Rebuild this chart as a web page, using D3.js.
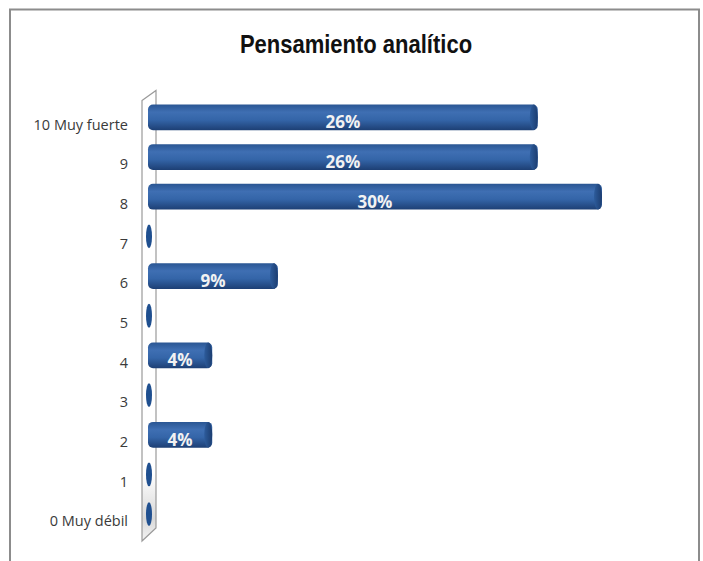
<!DOCTYPE html>
<html>
<head>
<meta charset="utf-8">
<script src="https://cdn.jsdelivr.net/npm/d3@7"></script>
<style>
  body { margin: 0; background: #fff; }
  svg { display: block; }
</style>
</head>
<body>
<svg id="chart"></svg>
<script>
// data (percent of answers)
var categories = ["10 Muy fuerte", "9", "8", "7", "6", "5", "4", "3", "2", "1", "0 Muy débil"]
var values = [26.1, 26.1, 30.4, 0, 8.7, 0, 4.3, 0, 4.3, 0, 0]
var valueLabels = ["26%", "26%", "30%", "", "9%", "", "4%", "", "4%", "", ""]
var title = "Pensamiento analítico"

var width = 703
var height = 561
var svg = d3.select("#chart").attr("width", width).attr("height", height)

var rows = categories.map(function(c, i) { return { cat: c, val: values[i], lab: valueLabels[i] } })

// scales
var x = d3.scaleLinear().domain([0, 30.4]).range([148, 602])
var y = d3.scaleBand().domain(categories).range([97.5, 534]).paddingInner(0.35).paddingOuter(0.175)

// gradients for the cylinder look
var defs = svg.append("defs")
var g1 = defs.append("linearGradient").attr("id", "barGrad").attr("x1", 0).attr("y1", 0).attr("x2", 0).attr("y2", 1)
g1.append("stop").attr("offset", "0%").attr("stop-color", "#2a5693")
g1.append("stop").attr("offset", "30%").attr("stop-color", "#3f6fb3")
g1.append("stop").attr("offset", "60%").attr("stop-color", "#3465a8")
g1.append("stop").attr("offset", "100%").attr("stop-color", "#1d3f74")
var g2 = defs.append("linearGradient").attr("id", "capGrad").attr("x1", 0).attr("y1", 0).attr("x2", 1).attr("y2", 0)
g2.append("stop").attr("offset", "0%").attr("stop-color", "#2d5c9c")
g2.append("stop").attr("offset", "100%").attr("stop-color", "#1c3d70")
var g3 = defs.append("linearGradient").attr("id", "wallGrad").attr("x1", 0).attr("y1", 0).attr("x2", 0).attr("y2", 1)
g3.append("stop").attr("offset", "0%").attr("stop-color", "#ffffff")
g3.append("stop").attr("offset", "85%").attr("stop-color", "#ffffff")
g3.append("stop").attr("offset", "95%").attr("stop-color", "#d8d8d8")
g3.append("stop").attr("offset", "100%").attr("stop-color", "#f4f4f4")

// outer frame
svg.append("rect")
  .attr("x", 10).attr("y", 9.5).attr("width", 689).attr("height", 560)
  .attr("fill", "#fff").attr("stroke", "#8c8c8c").attr("stroke-width", 2)

// title (slightly condensed like the original)
svg.append("text")
  .attr("transform", "translate(356,53) scale(0.88,1)")
  .attr("text-anchor", "middle")
  .style("font-family", "Liberation Sans, Arial, sans-serif")
  .style("font-weight", "bold")
  .style("font-size", "25px")
  .attr("fill", "#111")
  .text(title)

// the 3D side wall
var wallTop = y.range()[0] - 7
var wallBot = y.range()[1] + 7
svg.append("path")
  .attr("d", "M142," + (wallTop + 10) + " L156," + wallTop + " L156," + (wallBot - 13) + " L142," + wallBot + " Z")
  .attr("fill", "url(#wallGrad)")
  .attr("stroke", "#9a9a9a")
  .attr("stroke-width", 1.2)

// category axis
var axis = svg.append("g")
  .attr("transform", "translate(128,7)")
  .call(d3.axisLeft(y).tickSize(0).tickPadding(0))
axis.select(".domain").remove()
axis.selectAll("text")
  .attr("dy", "0.36em")
  .style("font-family", "Open Sans, Noto Sans, sans-serif")
  .style("font-size", "14.5px")
  .attr("fill", "#3a3a3a")

// bars
var bars = svg.append("g").selectAll("g")
  .data(rows)
  .enter()
  .append("g")

var bw = y.bandwidth()
bars.filter(function(d) { return d.val > 0 })
  .append("rect")
  .attr("x", x(0))
  .attr("y", function(d) { return y(d.cat) })
  .attr("width", function(d) { return x(d.val) - x(0) })
  .attr("height", bw)
  .attr("rx", 5)
  .attr("fill", "url(#barGrad)")

bars.filter(function(d) { return d.val > 0 })
  .append("ellipse")
  .attr("cx", function(d) { return x(d.val) - 4 })
  .attr("cy", function(d) { return y(d.cat) + bw / 2 })
  .attr("rx", 4)
  .attr("ry", bw / 2)
  .attr("fill", "url(#capGrad)")

// empty categories show only the end cap
bars.filter(function(d) { return d.val == 0 })
  .append("ellipse")
  .attr("cx", x(0) + 1)
  .attr("cy", function(d) { return y(d.cat) + bw / 2 })
  .attr("rx", 3)
  .attr("ry", bw / 2 - 1)
  .attr("fill", "#1f4f8f")

// value labels
bars.filter(function(d) { return d.lab != "" })
  .append("text")
  .attr("x", function(d) { return (x(0) + x(d.val)) / 2 })
  .attr("y", function(d) { return y(d.cat) + bw / 2 + 11 })
  .attr("text-anchor", "middle")
  .style("font-family", "Open Sans, Noto Sans, sans-serif")
  .style("font-size", "17px")
  .style("font-weight", "bold")
  .attr("fill", "#f2f2f2")
  .text(function(d) { return d.lab })
</script>
</body>
</html>
